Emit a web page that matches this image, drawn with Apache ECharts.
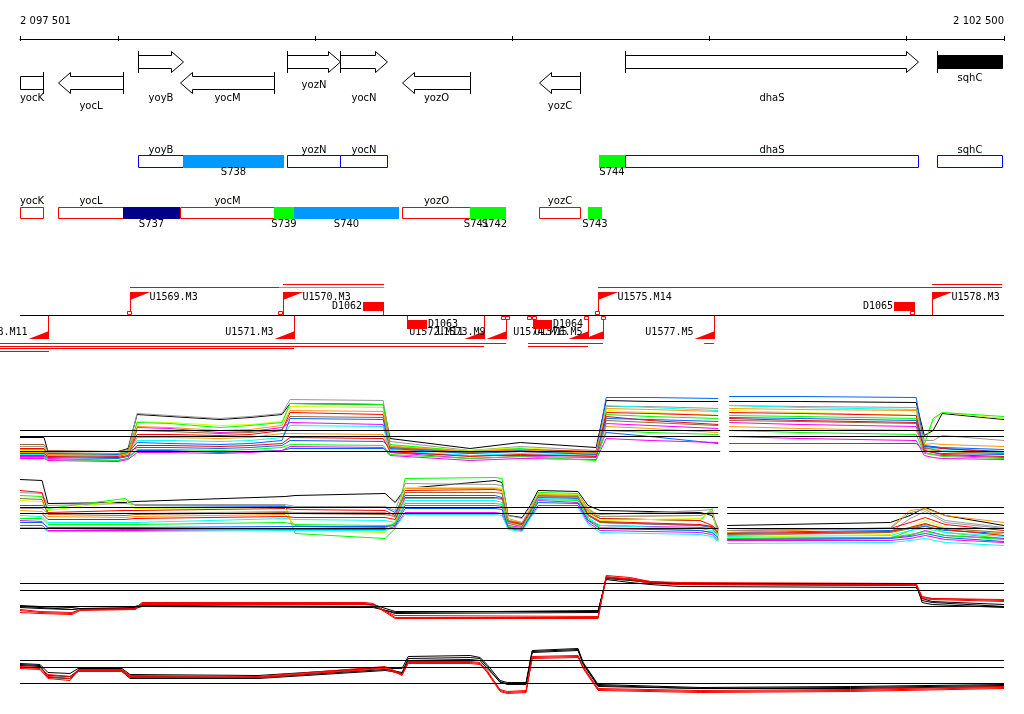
<!DOCTYPE html>
<html><head><meta charset="utf-8">
<script src="https://cdn.jsdelivr.net/npm/echarts@6/dist/echarts.min.js"></script>
<style>html,body{margin:0;padding:0;background:#fff}#c{width:1024px;height:714px}</style>
</head><body><div id="c"></div>
<script>
// ---------------- DATA ----------------
const X_MIN = 2097501, X_MAX = 2102500;
const rulerTicks = [2097501, 2098000, 2099000, 2100000, 2101000, 2102000, 2102500];
const rulerLabels = [2097501, 2102500];

// genes
const geneNames  = ['yocK','yocL','yoyB','yocM','yozN','yocN','yozO','yozC','dhaS','sqhC'];
const geneStart  = [2097501,2097694,2098101,2098314,2098858,2099127,2099442,2100138,2100575,2102161];
const geneEnd    = [2097618,2098024,2098329,2098792,2099127,2099366,2099788,2100347,2102064,2102491];
const geneStrand = ['-','-','+','-','+','+','-','-','+','+'];
const genePartial= [true,false,false,false,false,false,false,false,false,true];

// forward-strand transcript row
const fwdBoxNames = ['yoyB','yozN','yocN','dhaS','sqhC'];
const fwdBoxStart = [2098101,2098858,2099127,2100575,2102161];
const fwdBoxEnd   = [2098329,2099127,2099366,2102064,2102491];
const fwdSegNames = ['S738','S744'];
const fwdSegStart = [2098329,2100443];
const fwdSegEnd   = [2098843,2100575];
// reverse-strand transcript row
const revBoxNames = ['yocK','yocL','yocM','yozO','yozC'];
const revBoxStart = [2097501,2097694,2098314,2099442,2100138];
const revBoxEnd   = [2097618,2098024,2098792,2099788,2100347];
const revSegNames = ['S737','S739','S740','S741','S742','S743'];
const revSegStart = [2098024,2098792,2098893,2099788,2099854,2100387];
const revSegEnd   = [2098314,2098893,2099427,2099854,2099971,2100458];

// transcription units
const tuUpNames  = ['U1569.M3','U1570.M3','U1575.M14','U1578.M3'];
const tuUpPos    = [2098060,2098837,2100438,2102135];
const tuDownNames= ['U1568.M11','U1571.M3','U1572.M11','U1573.M9','U1574.M15','U1576.M5','U1577.M5'];
const tuDownPos  = [2097643,2098893,2099859,2099971,2100387,2100463,2101027];
const termUpNames = ['D1062','D1065'];
const termUpStart = [2099244,2101942];
const termUpEnd   = [2099351,2102049];
const termDownNames = ['D1063','D1064'];
const termDownStart = [2099468,2100108];
const termDownEnd   = [2099569,2100204];
const squareUpPos   = [2098060,2098827,2100438,2102039];
const squareDownPos = [2099960,2099981,2100092,2100118,2100382,2100468];
const spanUpStart = [2098837,2102135,2098060,2098817,2100438];
const spanUpEnd   = [2099351,2102491,2098817,2099351,2102491];
const spanDownStart = [2097399,2100082,2100977,2097399,2100082,2097399,2097399];
const spanDownEnd   = [2099971,2100463,2101027,2099859,2100387,2098893,2097648];

// expression panel 1
const p1X = [2097501,2097623,2097643,2097999,2098050,2098096,2098263,2098517,2098670,2098832,2098873,2099346,2099381,2099788,2100042,2100428,2100479,2100702,2101048,2101078,2101104,2101464,2102054,2102095,2102140,2102186,2102500];
const p1Ref = [50,44,29];
const p1Lines = [
 [43,43,29,29,32,66,64,61,63,66,77,76,42,32,38,33,80,79,79,null,79,79,78,45,50,67,61],
 [34,34,28,27,30,67,65,62,64,67,81,80,39,30,34,30,74,74,72,null,75,74,73,40,40,45,40],
 [28,28,26,25,28,33,33,32,33,35,40,39,33,28,30,27,83,83,82,null,84,84,83,35,34,32,29],
 [25,25,23,22,24,30,30,28,29,30,32,32,28,25,25,25,48,44,37,null,37,37,37,30,28,27,26],
 [30,30,27,26,28,59,58,55,56,59,74,73,35,30,33,28,70,68,65,null,70,68,65,37,60,68,62],
 [32,32,27,26,29,58,57,53,55,58,77,76,36,29,32,25,66,64,62,null,65,64,62,36,62,68,64],
 [32,32,25,24,27,46,46,45,46,50,68,66,34,28,31,29,64,60,56,null,62,60,58,32,33,32,28],
 [24,24,22,20,22,53,52,48,49,53,58,56,28,22,24,23,57,55,52,null,58,56,54,28,26,25,23],
 [26,26,24,23,25,40,40,39,40,43,55,54,30,25,27,25,75,73,70,null,75,73,71,33,32,30,28],
 [28,28,25,25,27,43,43,42,43,47,47,46,31,27,29,26,54,52,48,null,54,52,50,31,30,29,27],
 [36,36,30,29,31,50,49,47,48,51,64,63,33,28,31,28,60,58,55,null,60,59,57,33,31,29,27],
 [22,22,20,19,21,28,28,27,28,30,34,33,25,20,22,21,42,40,38,null,44,42,40,25,23,22,21],
 [27,27,24,23,25,35,35,34,35,37,43,42,29,24,26,24,68,67,65,null,68,67,65,30,28,26,24],
 [23,23,21,20,22,31,31,30,31,33,36,35,26,22,24,20,50,48,46,null,50,48,46,27,26,24,22],
 [29,29,27,26,28,38,37,36,37,40,62,61,32,27,29,26,62,61,59,null,63,62,60,34,34,33,31],
 [31,31,26,25,27,54,53,50,51,55,70,69,34,29,31,27,72,71,69,null,72,71,70,36,37,36,34]
];
// expression panel 2
const p2X = [2097501,2097613,2097643,2098035,2098085,2098848,2098898,2099356,2099407,2099457,2099915,2099950,2099981,2100052,2100093,2100133,2100336,2100387,2100448,2100956,2101017,2101048,2101068,2101094,2101922,2102023,2102100,2102201,2102500];
const p2Ref = [58,52,37];
const p2Lines = [
 [86,85,62,63,64,69,70,72,63,77,85,83,50,48,60,75,74,60,55,53,50,37,null,40,43,50,58,50,40],
 [70,69,57,67,60,60,32,27,37,87,88,87,45,41,55,73,72,57,47,45,57,25,null,25,27,35,40,33,27],
 [73,72,60,62,61,61,59,59,55,82,81,80,50,47,59,71,70,55,51,55,56,30,null,30,33,47,54,43,37],
 [75,73,53,55,55,57,56,55,50,75,76,75,45,42,55,69,68,53,47,45,40,35,null,35,37,43,48,41,35],
 [45,44,37,36,36,37,37,38,42,60,60,59,40,38,50,65,63,45,40,38,37,30,null,27,28,30,35,30,27],
 [60,60,58,58,58,59,58,58,53,70,70,68,43,40,53,68,67,50,43,40,38,33,null,33,35,37,39,35,32],
 [50,49,43,43,43,47,46,45,43,65,65,63,38,37,51,67,66,48,40,37,35,30,null,29,30,35,37,33,29],
 [55,54,49,48,49,51,40,37,43,77,77,76,47,43,57,71,71,57,49,50,53,35,null,33,38,55,57,50,43],
 [65,64,55,65,57,58,35,33,45,78,78,77,43,40,54,72,71,53,45,47,55,28,null,28,31,38,45,38,32],
 [67,66,51,50,51,53,52,51,49,73,73,72,42,39,53,70,69,50,43,40,39,32,null,31,33,37,41,37,33],
 [40,40,35,35,35,36,36,36,39,53,53,52,37,35,48,60,60,43,35,33,31,25,null,25,25,27,30,26,23],
 [52,52,46,46,47,49,48,48,46,68,68,67,44,41,54,69,68,51,44,41,39,33,null,32,34,38,42,36,30],
 [47,47,41,41,41,43,41,40,41,62,62,61,39,37,50,66,65,47,38,35,33,27,null,27,28,31,34,30,26],
 [43,43,38,38,38,39,39,39,40,57,57,56,38,36,49,63,62,45,37,35,33,28,null,26,27,29,32,28,24],
 [57,57,52,52,52,54,53,53,48,67,67,66,45,43,55,69,68,54,49,50,54,35,null,35,37,53,56,45,38],
 [38,38,34,34,34,35,35,35,38,51,51,50,36,34,47,58,58,41,33,31,29,24,null,22,23,25,27,23,20]
];
// expression panel 3
const p3X = [2097501,2097603,2097765,2097806,2098085,2098121,2099254,2099295,2099407,2100438,2100479,2100601,2100702,2100855,2102054,2102084,2102135,2102500];
const p3Ref = [47,40,24];
const p3Lines = [
 [25,24,23,24,24,26,26,26,19,19,52,50,48,46,45,30,28,24],
 [23,22,21,22,23,25,24,24,17,18,53,51,49,47,46,28,26,23],
 [24,23,21,22,22,24,23,23,18,20,51,48,46,44,43,32,29,26],
 [20,18,17,21,22,28,28,27,13,13,55,53,49,48,47,33,32,30],
 [18,17,16,20,21,27,27,26,12,12,54,51,47,46,45,32,31,29],
 [21,19,18,21,21,26,26,25,15,14,53,52,48,47,46,34,32,31]
];
// expression panel 4
const p4X = [2097501,2097603,2097643,2097755,2097796,2098019,2098060,2098710,2099356,2099391,2099442,2099473,2099788,2099838,2099874,2099940,2099976,2100072,2100103,2100336,2100362,2100438,2100956,2101719,2102500];
const p4Ref = [45,38,22];
const p4Lines = [
 [42,41,33,32,37,37,31,30,38,37,37,49,50,48,41,25,23,23,55,57,43,21,18,19,21],
 [40,39,30,29,35,35,29,28,36,35,33,47,48,47,39,23,22,22,53,55,41,19,17,18,20],
 [41,40,28,27,34,34,27,27,35,34,32,45,46,45,37,24,21,21,54,56,42,20,17,17,19],
 [38,37,29,27,36,36,30,29,39,36,31,44,44,43,35,15,13,14,49,50,39,16,14,15,18],
 [37,36,27,25,35,35,29,28,38,35,30,43,43,42,33,14,12,13,48,49,37,15,13,14,17],
 [39,38,31,29,34,34,28,28,37,34,31,42,42,41,34,16,14,15,47,48,38,17,15,16,19]
];
const gap12 = [[2101058,2101080,2101104],[2101048,2101070,2101094]];

// ---------------- STYLE / LAYOUT ----------------
const FONT = '10px "DejaVu Sans", sans-serif';
const MONO = '10px "DejaVu Sans Mono", monospace';
const RED = '#ff0000', BLUE = '#0000ff', GREEN = '#00ff00';
const SEG_COLOR = {S737:'#000088', S738:'#0099ff', S739:GREEN, S740:'#0099ff', S741:GREEN, S742:GREEN, S743:GREEN, S744:GREEN};
const GENE_FILL = {sqhC:'#000000'};
const P12_COLORS = ['#000000','#999999','#0066ff','#0066ff','#ccff00','#00ff00','#ff0000','#ff00ff','#00ffff','#ff9900','#996633','#ff00ff','#ff0000','#00ff00','#0066ff','#ff9900'];
const P2_COLORS  = ['#000000','#00ff00','#999999','#ff0000','#ff00ff','#0066ff','#00ffff','#ff9900','#ccff00','#996633','#ff00ff','#ff0000','#00ff00','#0066ff','#999999','#00ffff'];
const P34_COLORS = ['#000000','#000000','#000000','#ff0000','#ff0000','#ff0000'];
const L = {
  tick: [36, 41], rulerLabelY: 21,
  fwd: {top:55, bot:68, barTop:51, barBot:72},
  rev: {top:76, bot:89, barTop:72, barBot:93},
  head: 12,
  geneLabelY: {yocK:98, yocL:106, yoyB:98, yocM:98, yozN:85, yocN:98, yozO:98, yozC:106, dhaS:98, sqhC:78},
  fwdRow: {top:155, bot:167, nameY:150, segY:172},
  revRow: {top:207, bot:218, nameY:201, segY:224},
  base: 315, upTop: 292, downBot: 338, flagW: 20, flagH: 8,
  upLabelY: 297, downLabelY: 332,
  termUp: [302, 311], termDown: [320, 329], termUpLabelY: 306, termDownLabelY: 324,
  spanUpY: [284, 284, 287, 287, 287], spanDownY: [343, 343, 343, 346, 346, 348, 351],
  spanUpColor: [RED, RED, RED, GREEN, RED]
};

// ---------------- HELPERS ----------------
const snap = v => Math.round(v) + 0.5;
const fmtPos = v => String(v).replace(/\B(?=(\d{3})+(?!\d))/g, ' ');
const X = (api, v) => api.coord([v, 0])[0];
const line = (x1, y1, x2, y2, c) => ({type:'line', shape:{x1, y1, x2, y2}, style:{stroke:c, lineWidth:1}});
const text = (t, x, y, align, font, c) => ({type:'text', style:{text:t, x, y, font: font || FONT, fill: c || '#000', textAlign: align || 'center', textVerticalAlign:'middle'}});

function custom(data, renderItem, z) {
  return {type:'custom', xAxisIndex:1, yAxisIndex:1, data, renderItem, clip:false, silent:true, z: z || 5,
          encode:{x:[0], y:[]}};
}

const series = [];

// ruler ticks and labels
series.push(custom(rulerTicks.map(v => [v]), (p, api) => {
  const x = snap(X(api, api.value(0)));
  return line(x, L.tick[0], x, L.tick[1], '#000');
}));
series.push(custom(rulerLabels.map(v => [v]), (p, api) => {
  const v = api.value(0);
  return text(fmtPos(v), X(api, v), L.rulerLabelY, v === X_MIN ? 'left' : 'right');
}));

// genes
series.push(custom(geneNames.map((n, i) => [geneStart[i], geneEnd[i], i]), (p, api) => {
  const i = api.value(2), name = geneNames[i], strand = geneStrand[i];
  const x1 = snap(X(api, api.value(0))), x2 = snap(X(api, api.value(1)));
  const g = strand === '+' ? L.fwd : L.rev;
  const t = g.top + 0.5, b = g.bot + 0.5, mid = (g.top + g.bot) / 2 + 0.5;
  const kids = [];
  const st = {fill: GENE_FILL[name] || '#fff', stroke:'#000', lineWidth:1};
  if (genePartial[i]) {
    kids.push({type:'rect', shape:{x:x1, y:t, width:x2 - x1, height:g.bot - g.top}, style:st});
    const bx = strand === '+' ? x1 : x2;
    kids.push(line(bx, g.barTop, bx, g.barBot + 1, '#000'));
  } else if (strand === '+') {
    const hs = x2 - L.head;
    kids.push({type:'polygon', shape:{points:[[x1,t],[hs,t],[hs,g.barTop+0.5],[x2,mid],[hs,g.barBot+0.5],[hs,b],[x1,b]]}, style:st});
    kids.push(line(x1, g.barTop, x1, g.barBot + 1, '#000'));
  } else {
    const hs = x1 + L.head;
    kids.push({type:'polygon', shape:{points:[[x2,t],[hs,t],[hs,g.barTop+0.5],[x1,mid],[hs,g.barBot+0.5],[hs,b],[x2,b]]}, style:st});
    kids.push(line(x2, g.barTop, x2, g.barBot + 1, '#000'));
  }
  kids.push(text(name, (x1 + x2) / 2, L.geneLabelY[name], 'center'));
  return {type:'group', children:kids};
}));

// transcript rows
function boxSeries(names, starts, ends, row, color) {
  return custom(names.map((n, i) => [starts[i], ends[i], i]), (p, api) => {
    const i = api.value(2);
    const x1 = snap(X(api, api.value(0))), x2 = snap(X(api, api.value(1)));
    return {type:'group', children:[
      {type:'rect', shape:{x:x1, y:row.top + 0.5, width:x2 - x1, height:row.bot - row.top}, style:{fill:'#fff', stroke:color, lineWidth:1}},
      text(names[i], (x1 + x2) / 2, row.nameY, 'center')
    ]};
  }, 5);
}
function segSeries(names, starts, ends, row) {
  return custom(names.map((n, i) => [starts[i], ends[i], i]), (p, api) => {
    const i = api.value(2);
    const x1 = Math.round(X(api, api.value(0))), x2 = Math.round(X(api, api.value(1)));
    return {type:'group', children:[
      {type:'rect', shape:{x:x1, y:row.top, width:x2 - x1, height:row.bot - row.top + 1}, style:{fill:SEG_COLOR[names[i]]}},
      text(names[i], (x1 + x2) / 2, row.segY, 'center')
    ]};
  }, 6);
}
series.push(boxSeries(fwdBoxNames, fwdBoxStart, fwdBoxEnd, L.fwdRow, BLUE));
series.push(segSeries(fwdSegNames, fwdSegStart, fwdSegEnd, L.fwdRow));
series.push(boxSeries(revBoxNames, revBoxStart, revBoxEnd, L.revRow, RED));
series.push(segSeries(revSegNames, revSegStart, revSegEnd, L.revRow));

// TU baseline
series.push(custom([[X_MIN, X_MAX]], (p, api) => line(X(api, api.value(0)), L.base + 0.5, X(api, api.value(1)), L.base + 0.5, '#000'), 4));
// spans
series.push(custom(spanUpStart.map((s, i) => [s, spanUpEnd[i], i]), (p, api) => {
  const i = api.value(2), y = L.spanUpY[i] + 0.5;
  return line(X(api, api.value(0)), y, X(api, api.value(1)), y, L.spanUpColor[i]);
}));
series.push(custom(spanDownStart.map((s, i) => [s, spanDownEnd[i], i]), (p, api) => {
  const i = api.value(2), y = L.spanDownY[i] + 0.5;
  return line(X(api, api.value(0)), y, X(api, api.value(1)), y, RED);
}));
// flags
series.push(custom(tuUpPos.map((v, i) => [v, i]), (p, api) => {
  const i = api.value(1), x = snap(X(api, api.value(0)));
  return {type:'group', children:[
    line(x, L.upTop, x, L.base, RED),
    {type:'polygon', shape:{points:[[x - 0.5, L.upTop], [x + L.flagW, L.upTop], [x - 0.5, L.upTop + L.flagH]]}, style:{fill:RED}},
    text(tuUpNames[i], x + L.flagW - 1, L.upLabelY, 'left', MONO)
  ]};
}, 7));
series.push(custom(tuDownPos.map((v, i) => [v, i]), (p, api) => {
  const i = api.value(1), x = snap(X(api, api.value(0)));
  return {type:'group', children:[
    line(x, L.base + 1, x, L.downBot + 1, RED),
    {type:'polygon', shape:{points:[[x + 0.5, L.downBot + 1], [x - L.flagW, L.downBot + 1], [x + 0.5, L.downBot + 1 - L.flagH]]}, style:{fill:RED}},
    text(tuDownNames[i], x - L.flagW - 1, L.downLabelY, 'right', MONO)
  ]};
}, 7));
// terminators
series.push(custom(termUpStart.map((s, i) => [s, termUpEnd[i], i]), (p, api) => {
  const i = api.value(2);
  const x1 = Math.round(X(api, api.value(0))), x2 = Math.round(X(api, api.value(1)));
  return {type:'group', children:[
    {type:'rect', shape:{x:x1, y:L.termUp[0], width:x2 - x1, height:L.termUp[1] - L.termUp[0]}, style:{fill:RED}},
    line(x2 - 0.5, L.termUp[1], x2 - 0.5, L.base, RED),
    text(termUpNames[i], x1 - 1, L.termUpLabelY, 'right', MONO)
  ]};
}, 7));
series.push(custom(termDownStart.map((s, i) => [s, termDownEnd[i], i]), (p, api) => {
  const i = api.value(2);
  const x1 = Math.round(X(api, api.value(0))), x2 = Math.round(X(api, api.value(1)));
  return {type:'group', children:[
    {type:'rect', shape:{x:x1, y:L.termDown[0], width:x2 - x1, height:L.termDown[1] - L.termDown[0]}, style:{fill:RED}},
    line(x1 + 0.5, L.base + 1, x1 + 0.5, L.termDown[0], RED),
    text(termDownNames[i], x2 + 1, L.termDownLabelY, 'left', MONO)
  ]};
}, 8));
// squares
series.push(custom(squareUpPos.map(v => [v]), (p, api) => {
  const x = Math.round(X(api, api.value(0)));
  return {type:'rect', shape:{x:x - 2.5, y:L.base - 3.5, width:4, height:3}, style:{fill:'#fff', stroke:RED, lineWidth:1}};
}, 8));
series.push(custom(squareDownPos.map(v => [v]), (p, api) => {
  const x = Math.round(X(api, api.value(0)));
  return {type:'rect', shape:{x:x - 2.5, y:L.base + 1.5, width:4, height:3}, style:{fill:'#fff', stroke:RED, lineWidth:1}};
}, 8));

// expression panels
function panel(ax, xs, lines, colors, refs, gap) {
  lines.forEach((vals, k) => {
    series.push({type:'line', xAxisIndex:ax, yAxisIndex:ax, symbol:'none', silent:true, z:2,
      lineStyle:{color:colors[k], width:1},
      data: xs.map((x, j) => [x, vals[j] === null ? '-' : vals[j]])});
  });
  refs.forEach(r => {
    const d = gap ? [[X_MIN, r], [gap[0], r], [gap[1], '-'], [gap[2], r], [X_MAX, r]] : [[X_MIN, r], [X_MAX, r]];
    series.push({type:'line', xAxisIndex:ax, yAxisIndex:ax, symbol:'none', silent:true, z:3,
      lineStyle:{color:'#000', width:1}, data:d});
  });
}
panel(2, p1X, p1Lines, P12_COLORS, p1Ref, gap12[0]);
panel(3, p2X, p2Lines, P2_COLORS, p2Ref, gap12[1]);
panel(4, p3X, p3Lines, P34_COLORS, p3Ref, null);
panel(5, p4X, p4Lines, P34_COLORS, p4Ref, null);

// ---------------- AXES ----------------
const gridDefs = [
  {top:38, height:1}, {top:0, height:714},
  {top:380.5, height:100}, {top:465.5, height:100}, {top:560.5, height:70}, {top:635.5, height:70}
];
const yMax = [1, 1, 100, 100, 70, 70];
const option = {
  animation:false,
  backgroundColor:'#fff',
  grid: gridDefs.map(g => ({left:20, right:20, top:g.top, height:g.height, containLabel:false})),
  xAxis: gridDefs.map((g, i) => ({
    gridIndex:i, type:'value', min:X_MIN, max:X_MAX, show: i === 0, position:'top',
    axisLine:{show: i === 0, lineStyle:{color:'#000', width:1}},
    axisTick:{show:false}, axisLabel:{show:false}, splitLine:{show:false}
  })),
  yAxis: gridDefs.map((g, i) => ({gridIndex:i, type:'value', min:0, max:yMax[i], show:false, splitLine:{show:false}})),
  series
};
const chart = echarts.init(document.getElementById('c'), null, {renderer:'canvas'});
chart.setOption(option);
</script>
</body></html>
